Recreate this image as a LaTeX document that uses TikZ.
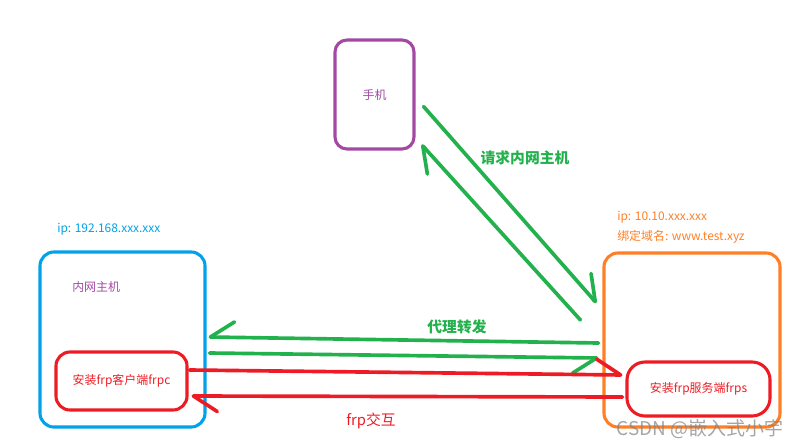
\documentclass[tikz,border=0pt]{standalone}
\usepackage{fontspec}
\setmainfont{Noto Sans CJK SC}
\usetikzlibrary{arrows.meta}

\definecolor{pcpurple}{HTML}{A349A4}
\definecolor{pcblue}{HTML}{00A2E8}
\definecolor{pcorange}{HTML}{FF7F27}
\definecolor{pcred}{HTML}{ED1C24}
\definecolor{pcgreen}{HTML}{22B14C}

\begin{document}
\begin{tikzpicture}[x=0.025cm, y=-0.025cm,
  box/.style={draw, line width=2.2pt, rounded corners=0.35cm, align=center,
              font=\fontsize{8.5}{10}\selectfont},
  lbl/.style={font=\fontsize{8.5}{10}\selectfont, inner sep=0pt},
  tag/.style={font=\bfseries\fontsize{10.5}{12}\selectfont, inner sep=0pt},
  arr/.style={line width=2.6pt, line cap=round,
              -{Straight Barb[harpoon, round, length=17pt, width=22pt]}},
  arrs/.style={line width=2.6pt, line cap=round,
              -{Straight Barb[harpoon, swap, round, length=17pt, width=22pt]}}
]
\useasboundingbox (0,0) rectangle (800,447);

% ======= Phone =======
\node[box, draw=pcpurple, text=pcpurple, minimum width=1.975cm,
      minimum height=2.725cm, rounded corners=0.3cm] (phone) at (374.5,94.5) {手机};

% ======= Intranet host =======
\node[box, draw=pcblue, minimum width=4.125cm, minimum height=4.375cm] (host) at (122.5,339.5) {};
\node[lbl, text=pcblue, anchor=west] (hostip) at (57,229) {ip: 192.168.xxx.xxx};
\node[lbl, text=pcpurple, anchor=west] (hostname) at (72,287) {内网主机};
\node[box, draw=pcred, text=pcred, minimum width=3.275cm, minimum height=1.45cm] (frpc) at (121.5,381) {安装frp客户端frpc};

% ======= Public server =======
\node[box, draw=pcorange, minimum width=4.4cm, minimum height=4.35cm] (server) at (692,340) {};
\node[lbl, text=pcorange, anchor=west] (serverip) at (617,217) {ip: 10.10.xxx.xxx};
\node[lbl, text=pcorange, anchor=west] (domain) at (617,237) {绑定域名: www.test.xyz};
\node[box, draw=pcred, text=pcred, minimum width=3.575cm, minimum height=1.35cm,
      rounded corners=0.45cm] (frps) at (698.5,389) {安装frp服务端frps};

% ======= Connections =======
\draw[arr, color=pcgreen] ([shift={(8,12)}]phone.east) -- ([shift={(-6,-37)}]server.west);
\draw[arr, color=pcgreen] ([shift={(-22,-20)}]server.west) -- ([shift={(6,-6)}]phone.south east);
\node[tag, text=pcgreen] (reqlbl) at (525,158) {请求内网主机};

\draw[arrs, color=pcgreen] ([shift={(-4,3)}]server.west) -- ([shift={(2,-2.5)}]host.east);
\draw[arrs, color=pcgreen] ([shift={(3,13.5)}]host.east) -- ([shift={(-4,18)}]server.west);
\node[tag, text=pcgreen] (proxylbl) at (457,327) {代理转发};

\draw[arr, color=pcred] ([shift={(1,-11)}]frpc.east) -- ([shift={(-3,-14)}]frps.west);
\draw[arr, color=pcred] ([shift={(-3,8)}]frps.west) -- ([shift={(3,15)}]frpc.east);
\node[font=\fontsize{10.5}{12}\selectfont, inner sep=0pt, text=pcred] (frplbl) at (371,421) {frp交互};

% watermark
\node[font=\fontsize{13.5}{15}\selectfont, inner sep=0pt, text=gray, opacity=0.7] (mark) at (700,429) {CSDN @嵌入式小宇};
\end{tikzpicture}
\end{document}
